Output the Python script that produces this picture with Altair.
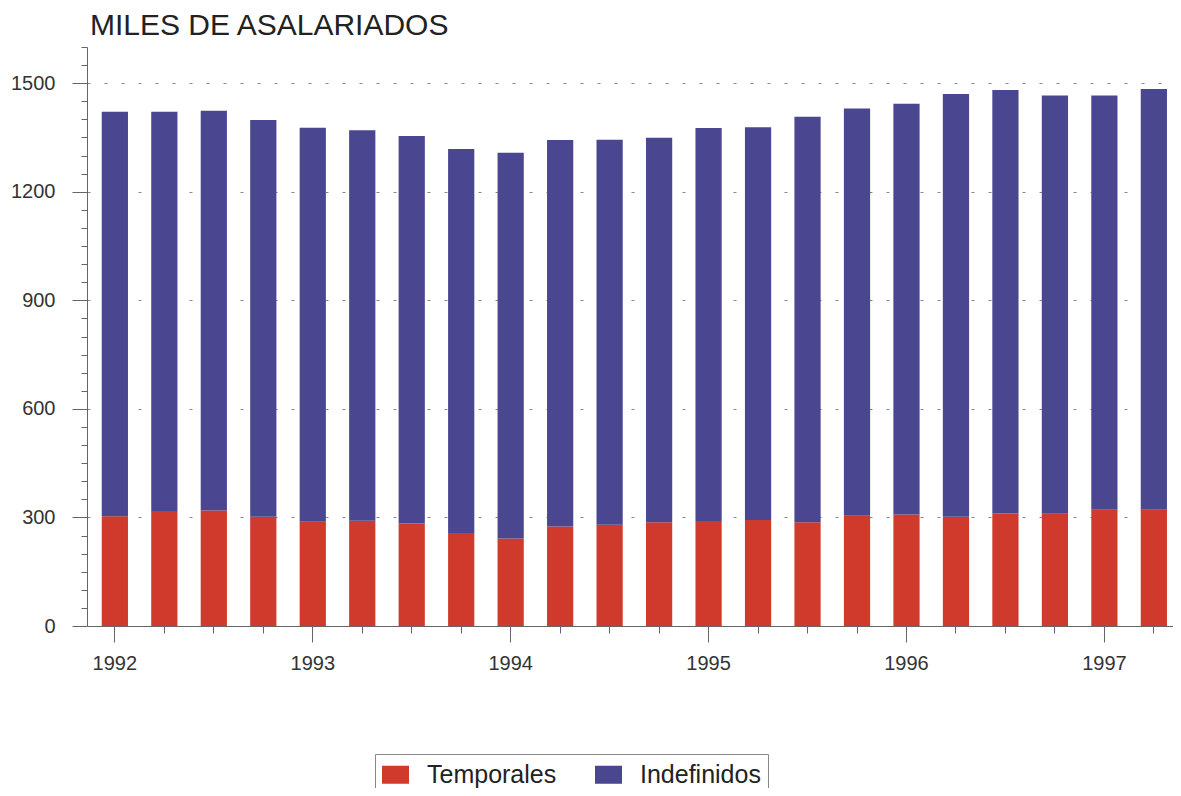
import altair as alt
import pandas as pd

trimestres = [
    "1992 T1", "1992 T2", "1992 T3", "1992 T4",
    "1993 T1", "1993 T2", "1993 T3", "1993 T4",
    "1994 T1", "1994 T2", "1994 T3", "1994 T4",
    "1995 T1", "1995 T2", "1995 T3", "1995 T4",
    "1996 T1", "1996 T2", "1996 T3", "1996 T4",
    "1997 T1", "1997 T2",
]
temporales = [303, 318, 319, 302, 288, 291, 283, 257, 242, 275, 280,
              287, 290, 293, 287, 305, 308, 302, 311, 310, 321, 321]
indefinidos = [1118, 1103, 1105, 1096, 1089, 1079, 1071, 1061, 1066, 1068, 1064,
               1062, 1086, 1085, 1120, 1125, 1135, 1168, 1170, 1156, 1145, 1163]
series = ["Temporales", "Indefinidos"]
colores = ["#d03a2c", "#4a4690"]
y_ticks = list(range(0, 1601, 50))

rows = []
for t, tv, iv in zip(trimestres, temporales, indefinidos):
    rows.append({"trimestre": t, "serie": "Temporales", "valor": tv, "orden": 0})
    rows.append({"trimestre": t, "serie": "Indefinidos", "valor": iv, "orden": 1})
df = pd.DataFrame(rows)

FONT = "Liberation Sans"

chart = alt.Chart(df).mark_bar().encode(
    x=alt.X(
        "trimestre:N",
        sort=trimestres,
        scale=alt.Scale(paddingInner=0.47, paddingOuter=0.21, align=0.71),
        axis=alt.Axis(
            title=None,
            labelAngle=0,
            labelExpr="slice(datum.label, -2) == 'T1' ? slice(datum.label, 0, 4) : ''",
            tickSize={"condition": {"test": "slice(datum.value, -2) == 'T1'", "value": 16}, "value": 7},
            labelPadding=11,
            domainColor="#666666",
            tickColor="#666666",
            labelFont=FONT,
            labelFontSize=20,
            labelColor="#333333",
            grid=False,
        ),
    ),
    y=alt.Y(
        "valor:Q",
        stack="zero",
        scale=alt.Scale(domain=[0, 1600], nice=False),
        axis=alt.Axis(
            title=None,
            values=y_ticks,
            format="d",
            labelExpr="datum.value % 300 === 0 ? datum.label : ''",
            tickSize={"condition": {"test": "datum.value % 300 === 0", "value": 15}, "value": 6},
            labelPadding=17,
            domainColor="#666666",
            tickColor="#666666",
            labelFont=FONT,
            labelFontSize=20,
            labelColor="#333333",
            grid=True,
            gridColor="#888888",
            gridDash=[3, 14],
            gridOpacity={"condition": {"test": "datum.value % 300 === 0 && datum.value > 0", "value": 1}, "value": 0},
        ),
    ),
    color=alt.Color(
        "serie:N",
        scale=alt.Scale(domain=series, range=colores),
        legend=alt.Legend(
            title=None,
            orient="none",
            direction="horizontal",
            legendX=288,
            legendY=707,
            symbolType="M-1,-0.667L1,-0.667L1,0.667L-1,0.667Z",
            symbolSize=729,
            symbolStrokeWidth=0,
            labelFont=FONT,
            labelFontSize=25,
            labelColor="#222222",
            labelOffset=18,
            columnPadding=38,
            gridAlign="all",
            padding=7,
            strokeColor="#888888",
        ),
    ),
    order=alt.Order("orden:Q"),
).properties(
    width=1086,
    height=579,
    background="white",
    title=alt.Title(
        "MILES DE ASALARIADOS",
        anchor="start",
        frame="group",
        dx=3,
        dy=32,
        offset=14,
        baseline="alphabetic",
        font=FONT,
        fontSize=30,
        fontWeight="normal",
        color="#222222",
    ),
    padding={"left": 79, "top": 39, "right": 0, "bottom": 162},
    autosize="none",
).configure_view(stroke=None)

chart.save("out.html", embed_options={"renderer": "svg", "actions": False})
